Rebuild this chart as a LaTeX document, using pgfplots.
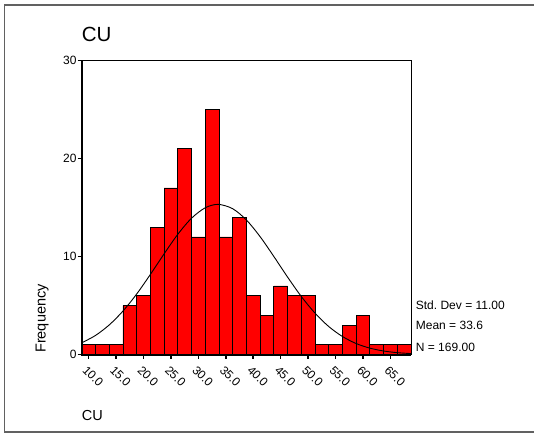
\documentclass[border=0pt]{standalone}
\usepackage{pgfplots}
\pgfplotsset{compat=1.18}
\usepackage{fontspec}
\setmainfont{Liberation Sans}
\begin{document}
\begin{tikzpicture}[x=1pt,y=1pt]
\useasboundingbox (0pt,0pt) rectangle (534pt,-435pt);
\draw[black!62, line width=1.4pt] (536pt,-5pt) -- (4.5pt,-5pt) -- (4.5pt,-432pt) -- (536pt,-432pt);
\begin{axis}[
  at={(81.7pt,-354.5pt)}, anchor=south west,
  scale only axis, width=329.3pt, height=294pt,
  xmin=8.75, xmax=68.75, ymin=0, ymax=30,
  xtick={10,15,...,65}, ytick={0,10,20,30},
  axis line style={black, line width=0.9pt},
  tick align=outside, major tick length=4pt,
  tick style={black, line width=1.6pt},
  tick pos=left,
  clip=false,
  /pgf/number format/assume math mode=true,
  xticklabel={\pgfmathprintnumber[fixed, fixed zerofill, precision=1]{\tick}},
  xticklabel style={rotate=-45, anchor=north west, font=\fontsize{12}{14}\selectfont, inner sep=1pt, xshift=3pt, yshift=-4pt},
  yticklabel style={font=\fontsize{12}{14}\selectfont, inner sep=1pt},
]
\addplot[ybar, bar width=2.5, bar shift=0pt, fill=red, draw=black, line width=0.7pt] coordinates {
(10,1) (12.5,1) (15,1) (17.5,5) (20,6) (22.5,13) (25,17) (27.5,21)
(30,12) (32.5,25) (35,12) (37.5,14) (40,6) (42.5,4) (45,7) (47.5,6)
(50,6) (52.5,1) (55,1) (57.5,3) (60,4) (62.5,1) (65,1) (67.5,1)
};
\addplot[black, line width=0.9pt, smooth, mark=none] coordinates {
(8.75,1.19) (11.25,1.94) (13.75,3.01) (16.25,4.42) (18.75,6.16) (21.25,8.16)
(23.75,10.26) (26.25,12.26) (28.75,13.90) (31.25,14.97) (33.6,15.32)
(36.25,14.88) (38.75,13.73) (41.25,12.03) (43.75,10.01) (46.25,7.91)
(48.75,5.93) (51.25,4.23) (53.75,2.86) (56.25,1.84) (58.75,1.12)
(61.25,0.651) (63.75,0.358) (66.25,0.187) (68.75,0.093)
};
\draw[black, line width=2pt] (rel axis cs:0,1) -- (rel axis cs:0,0) -- (rel axis cs:1,0);
\end{axis}
\node[anchor=base west, font=\fontsize{20.5}{24}\selectfont, inner sep=0] at (81.7pt,-41.7pt) {CU};
\node[anchor=base west, rotate=90, font=\fontsize{14.5}{17}\selectfont, inner sep=0] at (45.7pt,-353pt) {Frequency};
\node[anchor=base west, font=\fontsize{14.5}{17}\selectfont, inner sep=0] at (81.7pt,-420pt) {CU};
\node[anchor=base west, font=\fontsize{12}{14}\selectfont, inner sep=0] at (415.7pt,-309.3pt) {Std.\ Dev = 11.00};
\node[anchor=base west, font=\fontsize{12}{14}\selectfont, inner sep=0] at (415.7pt,-329.3pt) {Mean = 33.6};
\node[anchor=base west, font=\fontsize{12}{14}\selectfont, inner sep=0] at (415.7pt,-351pt) {N = 169.00};
\end{tikzpicture}
\end{document}
